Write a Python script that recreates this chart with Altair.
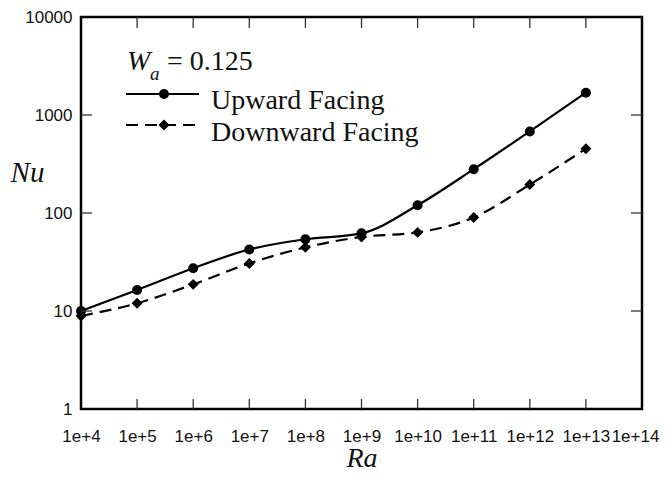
import altair as alt
import pandas as pd

# ---- data ----
ra = [1e4, 1e5, 1e6, 1e7, 1e8, 1e9, 1e10, 1e11, 1e12, 1e13]
nu_up = [10.0, 16.4, 27.3, 42.5, 54.0, 62.0, 120.0, 280.0, 680.0, 1690.0]
nu_down = [8.9, 12.0, 18.7, 30.6, 44.6, 57.0, 63.4, 90.0, 195.0, 453.0]
x_ticks = [1e4, 1e5, 1e6, 1e7, 1e8, 1e9, 1e10, 1e11, 1e12, 1e13, 1e14]
y_ticks = [1, 10, 100, 1000, 10000]
inner_x_ticks = x_ticks[1:-1]
inner_y_ticks = y_ticks[1:-1]

W, H = 561, 392
serif = "Liberation Serif"
sans = "Liberation Sans"

up_df = pd.DataFrame({"Ra": ra, "Nu": nu_up})
down_df = pd.DataFrame({"Ra": ra, "Nu": nu_down})
xt_df = pd.DataFrame({"Ra": inner_x_ticks})
yt_df = pd.DataFrame({"Nu": inner_y_ticks})

xscale = alt.Scale(type="log", domain=[1e4, 1e14], nice=False)
yscale = alt.Scale(type="log", domain=[1, 10000], nice=False)

x_axis = alt.Axis(
    values=x_ticks,
    labelExpr="'1e+' + round(log(datum.value)/LN10)",
    labelOffset={"condition": {"test": "datum.value > 5e13", "value": -7}, "value": 0},
    ticks=False, domain=False, grid=False,
    labelFont=sans, labelFontSize=17, labelColor="#111",
    labelPadding=19, labelFlush=False, labelOverlap=False,
    title="Ra", titleFont=serif, titleFontStyle="italic",
    titleFontWeight="normal", titleFontSize=28,
    titleY=57, titleBaseline="alphabetic",
    titleColor="#111",
)
y_axis = alt.Axis(
    values=y_ticks, format="d",
    ticks=False, domain=False, grid=False,
    labelFont=sans, labelFontSize=17, labelColor="#111",
    labelPadding=9, labelFlush=False, labelOverlap=False,
    title="Nu", titleFont=serif, titleFontStyle="italic",
    titleFontWeight="normal", titleFontSize=29, titleColor="#111",
    titleAngle=0, titleX=-54, titleY=155, titleAlign="center",
    titleBaseline="middle",
)

X = alt.X("Ra:Q", scale=xscale, axis=x_axis)
Y = alt.Y("Nu:Q", scale=yscale, axis=y_axis)

up_line = alt.Chart(up_df).mark_line(
    color="black", strokeWidth=2.2, interpolate="monotone"
).encode(x=X, y=Y)
up_pts = alt.Chart(up_df).mark_point(
    shape="circle", filled=True, color="black", size=100, opacity=1
).encode(x=X, y=Y)
down_line = alt.Chart(down_df).mark_line(
    color="black", strokeWidth=2.2, strokeDash=[12, 7], interpolate="monotone"
).encode(x=X, y=Y)
down_pts = alt.Chart(down_df).mark_point(
    shape="diamond", filled=True, color="black", size=120, opacity=1
).encode(x=X, y=Y)

# inward ticks on all four sides
tick_style = dict(color="#333", strokeWidth=1.3)
bottom_ticks = alt.Chart(xt_df).mark_rule(**tick_style).encode(
    x=X, y=alt.value(H), y2=alt.value(H - 10))
top_ticks = alt.Chart(xt_df).mark_rule(**tick_style).encode(
    x=X, y=alt.value(0), y2=alt.value(11))
left_ticks = alt.Chart(yt_df).mark_rule(**tick_style).encode(
    y=Y, x=alt.value(0), x2=alt.value(11))
right_ticks = alt.Chart(yt_df).mark_rule(**tick_style).encode(
    y=Y, x=alt.value(W - 11), x2=alt.value(W))

one = alt.Data(values=[{"k": 0}])

# custom legend
leg_solid = alt.Chart(one).mark_rule(color="black", strokeWidth=2.2).encode(
    x=alt.value(45), x2=alt.value(118), y=alt.value(77))
leg_circle = alt.Chart(one).mark_point(
    shape="circle", filled=True, color="black", size=100, opacity=1).encode(
    x=alt.value(83), y=alt.value(77))
leg_dash = alt.Chart(one).mark_rule(color="black", strokeWidth=2.2, strokeDash=[12, 7]).encode(
    x=alt.value(45), x2=alt.value(119), y=alt.value(108))
leg_diamond = alt.Chart(one).mark_point(
    shape="diamond", filled=True, color="black", size=120, opacity=1).encode(
    x=alt.value(83), y=alt.value(108))
txt_up = alt.Chart(one).mark_text(
    text="Upward Facing", font=serif, fontSize=28, align="left",
    baseline="middle", color="#111").encode(x=alt.value(130), y=alt.value(84))
txt_down = alt.Chart(one).mark_text(
    text="Downward Facing", font=serif, fontSize=28, align="left",
    baseline="middle", color="#111").encode(x=alt.value(130), y=alt.value(116))
txt_w = alt.Chart(one).mark_text(
    text="W", font=serif, fontSize=28, fontStyle="italic", align="left",
    baseline="middle", color="#111").encode(x=alt.value(46), y=alt.value(45))
txt_a = alt.Chart(one).mark_text(
    text="a", font=serif, fontSize=19, fontStyle="italic", align="left",
    baseline="middle", color="#111").encode(x=alt.value(69), y=alt.value(57))
txt_val = alt.Chart(one).mark_text(
    text="= 0.125", font=serif, fontSize=28, align="left",
    baseline="middle", color="#111").encode(x=alt.value(86), y=alt.value(45))

chart = alt.layer(
    up_line, down_line, up_pts, down_pts,
    bottom_ticks, top_ticks, left_ticks, right_ticks,
    leg_solid, leg_circle, leg_dash, leg_diamond,
    txt_up, txt_down, txt_w, txt_a, txt_val,
).properties(
    width=W, height=H,
    autosize=alt.AutoSizeParams(type="none"),
    padding={"left": 73, "top": 9, "right": 18, "bottom": 62},
    background="white",
).configure_view(
    stroke="black", strokeWidth=2.5
)

chart.save("out.html", embed_options={"renderer": "svg", "actions": False})
